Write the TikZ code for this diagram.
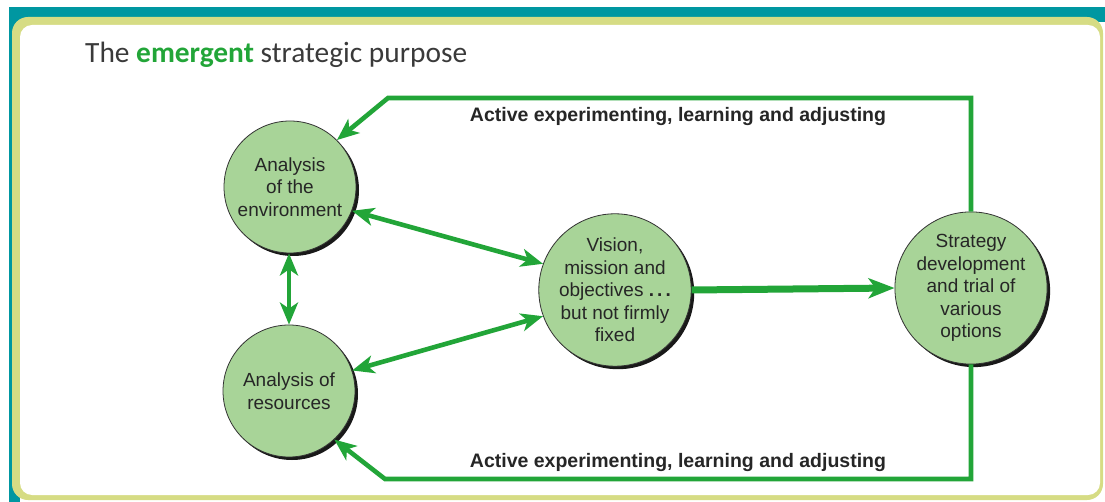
\documentclass[tikz,border=0pt]{standalone}
\usepackage{fontspec}
\setmainfont{Liberation Sans}
\newfontfamily\titlefont{Carlito}
\usetikzlibrary{arrows.meta}
\definecolor{frameteal}{RGB}{0,151,161}
\definecolor{frameyg}{RGB}{214,220,132}
\definecolor{circfill}{RGB}{168,212,152}
\definecolor{arrgreen}{RGB}{34,165,56}
\definecolor{titlegray}{RGB}{58,58,58}
\tikzset{
  bubble/.style={circle, minimum size=132pt, inner sep=0pt, fill=circfill,
    draw=black!80, line width=0.8pt, align=center,
    font=\fontsize{19}{22.5}\selectfont, text=black!85,
    preaction={fill=black!90, transform canvas={shift={(3pt,-3pt)}}}},
  conn/.style={draw=arrgreen, line width=4.6pt},
  tip/.style={-{Stealth[length=22pt,width=18pt,inset=6pt]}},
  dtip/.style={{Stealth[length=22pt,width=18pt,inset=6pt]}-{Stealth[length=22pt,width=18pt,inset=6pt]}},
  looplabel/.style={anchor=base, font=\bfseries\fontsize{19.5}{22}\selectfont, text=black!85}
}
\begin{document}
\begin{tikzpicture}[x=1pt,y=-1pt]
\useasboundingbox (0,0) rectangle (1105,502);
% frame
\fill[frameteal] (9,7) rectangle (1105,22);
\fill[frameteal] (9,7) rectangle (20,502);
\fill[frameyg, rounded corners=16pt] (12,17) rectangle (1103,500);
\fill[white, rounded corners=12pt] (20,25) rectangle (1100,495);
% title
\node[anchor=base west, inner sep=0pt, font=\titlefont\fontsize{29.4}{32}\selectfont, text=titlegray] (title) at (85,63)
  {The \textcolor{arrgreen}{\bfseries emergent} strategic purpose};
% circles
\node[bubble] (env) at (290,187) {Analysis\\of the\\environment};
\node[bubble] (res) at (289,391) {Analysis of\\resources};
\node[bubble] (vis) at (615,290) {Vision,\\mission and\\objectives \textbf{.\,.\,.}\\but not firmly\\fixed};
\node[bubble] (str) at (971,288) {Strategy\\development\\and trial of\\various\\options};
% loop coordinates
\coordinate (tr) at (971,98);
\coordinate (tl) at (388,98);
\coordinate (br) at (971,479);
\coordinate (bl) at (385,479);
% connectors
\draw[conn, tip, line join=miter] (str.north) -- (tr) -- (tl) -- (env.45);
\draw[conn, tip, line join=miter] (str.south) -- (br) -- (bl) -- (res.-47);
\draw[conn, dtip] (env.-21) -- (vis.160);
\draw[conn, dtip] (res.18) -- (vis.200);
\draw[conn, dtip] (env.south -| 289,0) -- (res.north -| 289,0);
\draw[conn, line width=7pt, -{Stealth[length=26pt,width=20pt,inset=7pt]}] (vis.east) -- (str.west);
% labels
\node[looplabel] (toplabel) at (678,122) {Active experimenting, learning and adjusting};
\node[looplabel] (botlabel) at (678,467) {Active experimenting, learning and adjusting};
\end{tikzpicture}
\end{document}
